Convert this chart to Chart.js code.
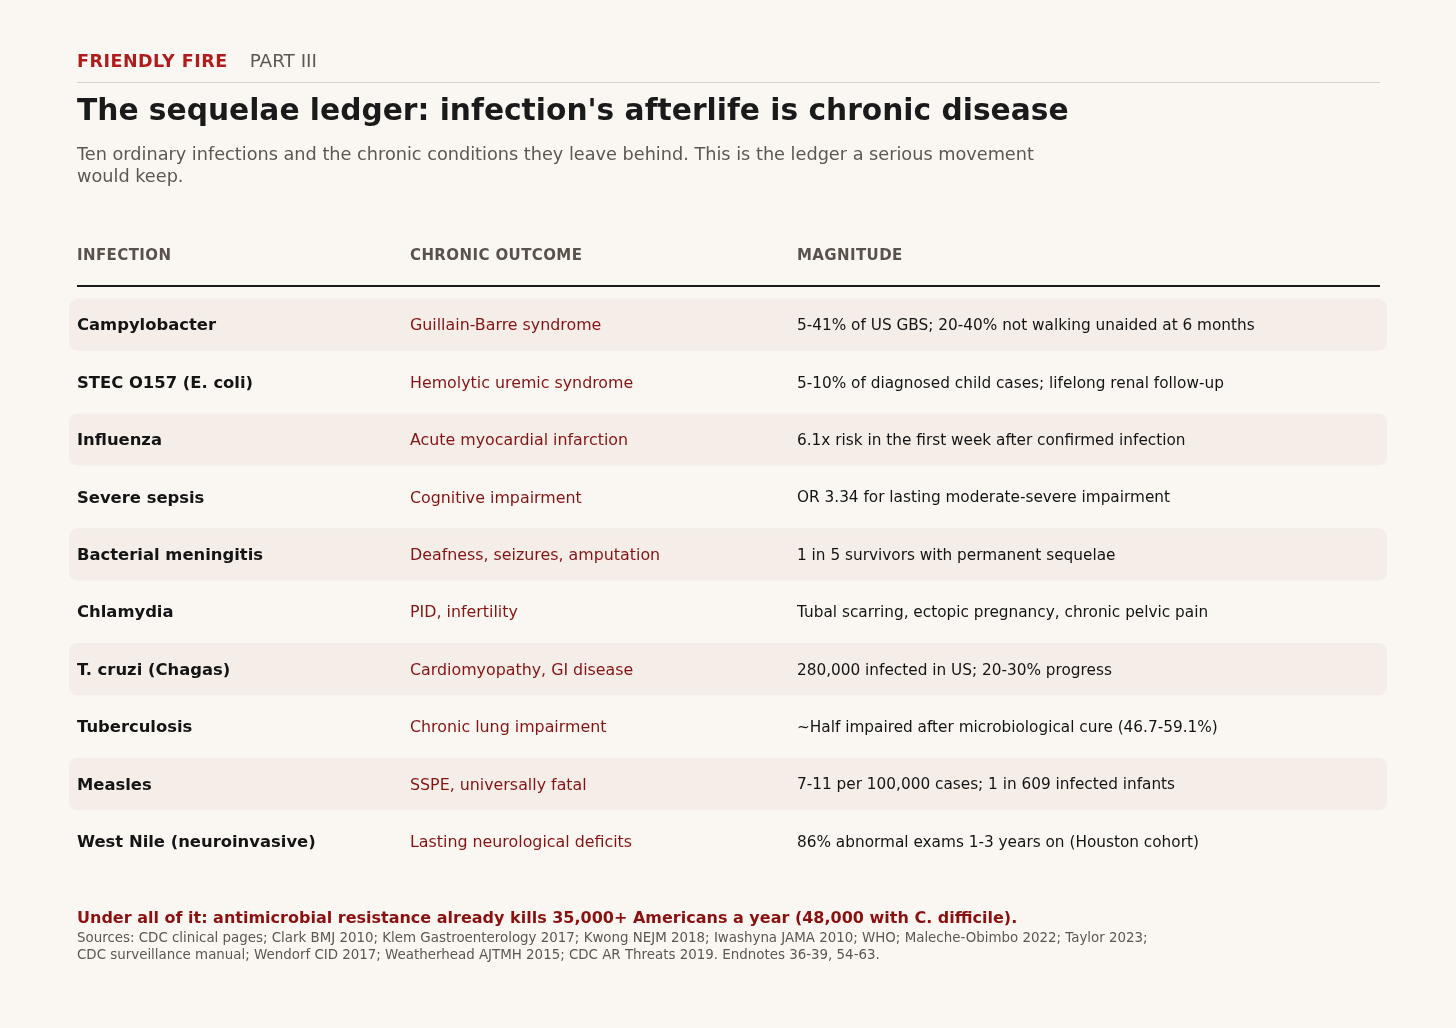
<!DOCTYPE html>
<html>
<head>
<meta charset="utf-8">
<script src="https://cdn.jsdelivr.net/npm/chart.js@4"></script>
<style>
  html, body { margin:0; padding:0; background:#faf7f3; }
  body { width:1456px; height:1028px; position:relative; overflow:hidden; font-family:"DejaVu Sans", sans-serif; }
  .abs { position:absolute; white-space:nowrap; }
  #kicker { left:77px; top:50px; font-size:17.5px; line-height:22px; }
  #kicker b { color:#b01c1c; letter-spacing:0.5px; }
  #kicker span { color:#5e5650; margin-left:22px; font-size:18.4px; }
  #rule1 { left:77px; top:82px; width:1303px; height:1px; background:#d9d1cc; }
  #title { left:77px; top:92px; font-size:29.7px; line-height:36px; font-weight:bold; color:#1a1a1a; }
  #sub { left:77px; top:143px; width:1010px; white-space:normal; font-size:17.7px; line-height:22px; color:#5e5650; }
  .colh { top:246px; font-size:15px; line-height:19px; font-weight:bold; color:#5a514b; letter-spacing:0.4px; }
  #rule2 { left:77px; top:285px; width:1303px; height:2px; background:#1a1a1a; }
  #foot { left:77px; top:908px; font-size:16px; line-height:20px; font-weight:bold; color:#8b1010; }
  #src { left:77px; top:929px; font-size:13.4px; line-height:17px; color:#5e5650; white-space:normal; width:1100px; }
  #c { position:absolute; left:0; top:0; }
</style>
</head>
<body>
<canvas id="c" width="1456" height="1028"></canvas>
<div id="kicker" class="abs"><b>FRIENDLY FIRE</b><span>PART III</span></div>
<div id="rule1" class="abs"></div>
<div id="title" class="abs">The sequelae ledger: infection's afterlife is chronic disease</div>
<div id="sub" class="abs">Ten ordinary infections and the chronic conditions they leave behind. This is the ledger a serious movement would keep.</div>
<div class="abs colh" style="left:77px">INFECTION</div>
<div class="abs colh" style="left:410px">CHRONIC OUTCOME</div>
<div class="abs colh" style="left:797px">MAGNITUDE</div>
<div id="rule2" class="abs"></div>
<div id="foot" class="abs">Under all of it: antimicrobial resistance already kills 35,000+ Americans a year (48,000 with C. difficile).</div>
<div id="src" class="abs">Sources: CDC clinical pages; Clark BMJ 2010; Klem Gastroenterology 2017; Kwong NEJM 2018; Iwashyna JAMA 2010; WHO; Maleche-Obimbo 2022; Taylor 2023; CDC surveillance manual; Wendorf CID 2017; Weatherhead AJTMH 2015; CDC AR Threats 2019. Endnotes 36-39, 54-63.</div>
<script>
const infections = ["Campylobacter","STEC O157 (E. coli)","Influenza","Severe sepsis","Bacterial meningitis","Chlamydia","T. cruzi (Chagas)","Tuberculosis","Measles","West Nile (neuroinvasive)"];
const outcomes = ["Guillain-Barre syndrome","Hemolytic uremic syndrome","Acute myocardial infarction","Cognitive impairment","Deafness, seizures, amputation","PID, infertility","Cardiomyopathy, GI disease","Chronic lung impairment","SSPE, universally fatal","Lasting neurological deficits"];
const magnitudes = ["5-41% of US GBS; 20-40% not walking unaided at 6 months","5-10% of diagnosed child cases; lifelong renal follow-up","6.1x risk in the first week after confirmed infection","OR 3.34 for lasting moderate-severe impairment","1 in 5 survivors with permanent sequelae","Tubal scarring, ectopic pregnancy, chronic pelvic pain","280,000 infected in US; 20-30% progress","~Half impaired after microbiological cure (46.7-59.1%)","7-11 per 100,000 cases; 1 in 609 infected infants","86% abnormal exams 1-3 years on (Houston cohort)"];

const stripe = infections.map((_, i) => i % 2 === 0 ? [0, 1] : null);

const textPlugin = {
  id: 'tableText',
  afterDatasetsDraw(chart) {
    const ctx = chart.ctx, y = chart.scales.y, left = chart.chartArea.left;
    ctx.save();
    ctx.textBaseline = 'middle';
    infections.forEach((name, i) => {
      const py = y.getPixelForValue(i) + 1.5;
      ctx.font = 'bold 16.4px "DejaVu Sans"';
      ctx.fillStyle = '#141414';
      ctx.fillText(name, left + 8, py);
      ctx.font = '15.85px "DejaVu Sans"';
      ctx.fillStyle = '#841414';
      ctx.fillText(outcomes[i], left + 341, py);
      ctx.font = '15.3px "DejaVu Sans"';
      ctx.fillStyle = '#141414';
      ctx.fillText(magnitudes[i], left + 728, py);
    });
    ctx.restore();
  }
};

new Chart(document.getElementById('c'), {
  type: 'bar',
  data: {
    labels: infections,
    datasets: [{
      data: stripe,
      backgroundColor: '#f4ede8',
      borderRadius: 8,
      borderSkipped: false,
      barPercentage: 1,
      categoryPercentage: 0.91
    }]
  },
  options: {
    indexAxis: 'y',
    responsive: false,
    animation: false,
    devicePixelRatio: 1,
    layout: { padding: { left: 69, right: 69, top: 296, bottom: 158 } },
    plugins: { legend: { display: false }, tooltip: { enabled: false } },
    scales: {
      x: { display: false, min: 0, max: 1 },
      y: { display: false }
    }
  },
  plugins: [textPlugin]
});
</script>
</body>
</html>
